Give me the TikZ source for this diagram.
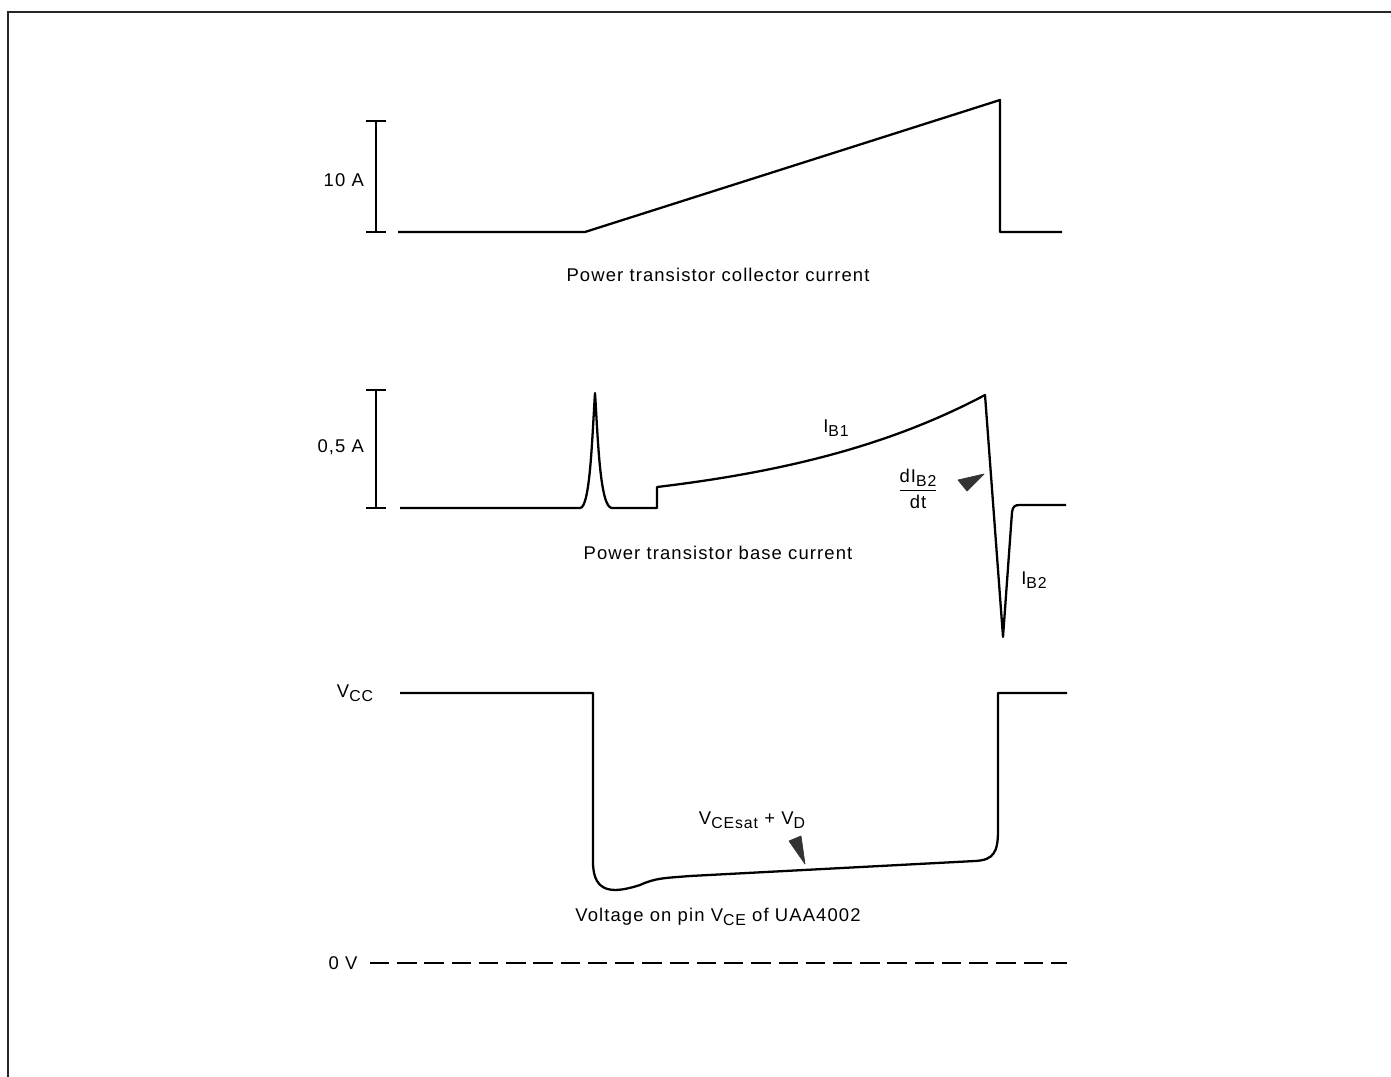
\documentclass[tikz,border=0pt]{standalone}
\usepackage{amsmath}
\usepackage{fontspec}
\setmainfont{Liberation Sans}
\usepackage{tikz}
\usetikzlibrary{calc}
\usetikzlibrary{positioning}

\newcommand{\lowsub}[1]{\raisebox{-0.45ex}{\fontsize{9}{10}\selectfont #1}}

\begin{document}
\begin{tikzpicture}[
		x=0.02cm, y=-0.02cm,
		every node/.append style={font=\fontsize{10.5}{12}\selectfont\addfontfeatures{LetterSpace=6}},
		wave/.style={
			draw=black,
			line width=1.3pt,
			line join=round},
		scalebar/.style={
			draw=black,
			line width=1.2pt},
		caption/.style={
			inner sep=1pt,
			anchor=center},
		marker/.style={
			fill=black!80,
			draw=black!80,
			line join=round},
		frame/.style={
			draw=black!85,
			line width=1pt},
		]
		\useasboundingbox (0,0) rectangle (1391,1077);

		%Frame
		\draw[frame] (8,1077) -- (8,12) -- (1405,12) -- (1391,17);

		%Collector current
		\coordinate (ic_start) at (398,232);
		\coordinate (ic_knee) at (585,232);
		\coordinate (ic_peak) at (1000,100);
		\coordinate (ic_drop) at (1000,232);
		\coordinate (ic_end) at (1062,232);
		\draw[scalebar] (376,121) -- (376,232) (366,121) -- (386,121) (366,232) -- (386,232);
		\node (ic_scale)[caption, anchor=east] at (366,180) {10 A};
		\draw[wave] (ic_start) -- (ic_knee) -- (ic_peak) -- (ic_drop) -- (ic_end);
		\node (ic_label)[caption] at (718,275) {Power transistor collector current};

		%Base current
		\coordinate (ib_start) at (400,508);
		\coordinate (ib_spike) at (595,393);
		\coordinate (ib_step) at (657,508);
		\coordinate (ib_top) at (985,395);
		\coordinate (ib_min) at (1003,637);
		\coordinate (ib_end) at (1066,505);
		\draw[scalebar] (376,390) -- (376,508) (366,390) -- (386,390) (366,508) -- (386,508);
		\node (ib_scale)[caption, anchor=east] at (366,447) {0,5 A};
		\draw[wave] (ib_start) -- (580,508) .. controls (590,508) and (592,440) .. (ib_spike)
			.. controls (598,440) and (600,508) .. (612,508)
			-- (ib_step) -- (657,487) .. controls (800,470) and (900,440) .. (ib_top)
			-- (ib_min) -- (1012,512) .. controls (1013,506) and (1015,505) .. (1020,505) -- (ib_end);
		\node (ib1)[caption] at (836,428) {I\lowsub{B1}};
		\node (ib2)[caption] at (1034,580) {I\lowsub{B2}};
		\node (didt)[caption] at (918,489) {$\dfrac{\text{dI\lowsub{B2}}}{\text{dt}}$};
		\fill[marker] (958,480) -- (967,491) -- (984,474) -- cycle;
		\node (ib_label)[caption] at (718,553) {Power transistor base current};

		%Collector-emitter voltage
		\coordinate (v_start) at (400,693);
		\coordinate (v_fall) at (593,693);
		\coordinate (v_rise) at (998,693);
		\coordinate (v_end) at (1067,693);
		\node (vcc)[caption] at (355,693) {V\lowsub{CC}};
		\draw[wave] (v_start) -- (v_fall) -- (593,862) .. controls (593,895) and (615,893) .. (640,885)
			.. controls (655,878) and (665,878) .. (690,876) -- (975,861)
			.. controls (994,860) and (998,852) .. (998,830) -- (v_rise) -- (v_end);
		\node (vsat)[caption] at (752,820) {V\lowsub{CEsat} + V\lowsub{D}};
		\fill[marker] (789,841) -- (801,836) -- (805,864) -- cycle;
		\node (v_label)[caption] at (718,917) {Voltage on pin V\lowsub{CE} of UAA4002};

		%Zero line
		\node (zero)[caption] at (343,963) {0 V};
		\draw[wave, line width=1.1pt, dash pattern=on 11pt off 4.5pt] (370,963) -- (1067,963);

	\end{tikzpicture}
\end{document}
